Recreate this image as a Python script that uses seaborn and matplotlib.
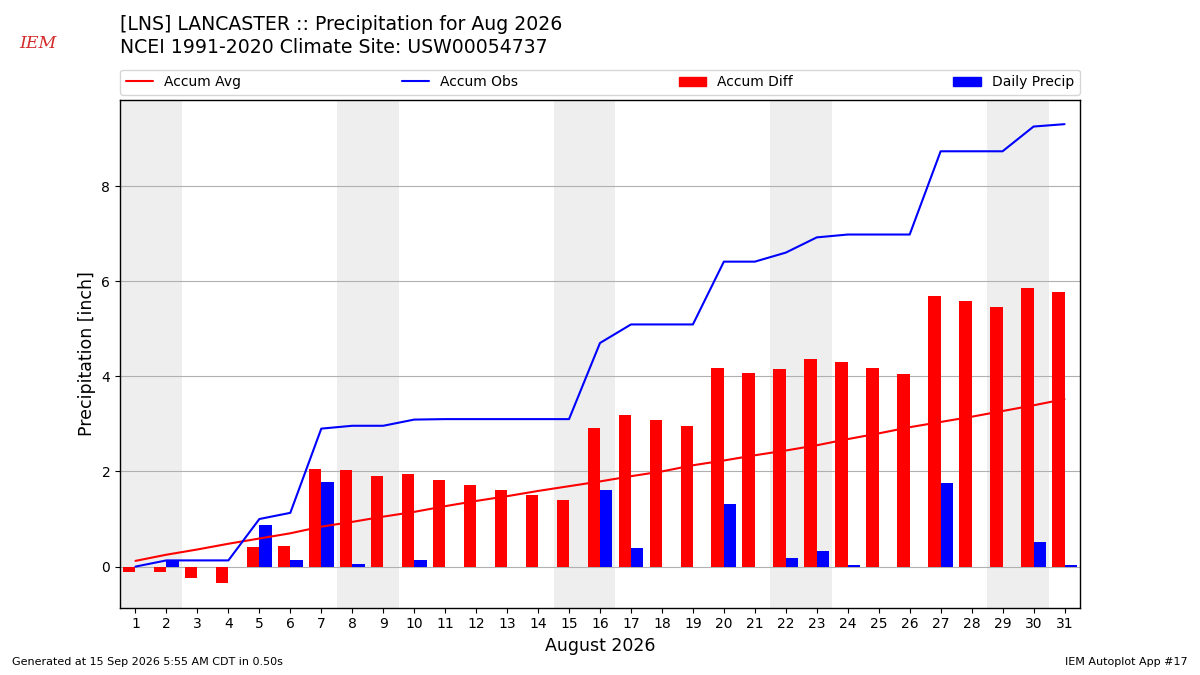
import matplotlib
matplotlib.use("Agg")
import matplotlib.pyplot as plt
import matplotlib.patches as mpatches
from matplotlib.lines import Line2D
import pandas as pd
import seaborn as sns

TITLE = "[LNS] LANCASTER :: Precipitation for Aug 2026\nNCEI 1991-2020 Climate Site: USW00054737"

days = list(range(1, 32))
accum_avg = [0.12, 0.25, 0.36, 0.48, 0.59, 0.70, 0.84, 0.94, 1.05, 1.15, 1.27, 1.38, 1.48, 1.59, 1.69, 1.79,
             1.90, 2.00, 2.13, 2.23, 2.34, 2.44, 2.55, 2.68, 2.80, 2.93, 3.04, 3.15, 3.27, 3.39, 3.52]
accum_obs = [0.00, 0.13, 0.13, 0.13, 1.00, 1.13, 2.90, 2.96, 2.96, 3.09, 3.10, 3.10, 3.10, 3.10, 3.10, 4.70,
             5.09, 5.09, 5.09, 6.41, 6.41, 6.60, 6.92, 6.98, 6.98, 6.98, 8.73, 8.73, 8.73, 9.25, 9.30]
accum_diff = [-0.12, -0.12, -0.23, -0.35, 0.41, 0.43, 2.06, 2.02, 1.91, 1.94, 1.83, 1.72, 1.62, 1.51, 1.41, 2.91,
              3.19, 3.09, 2.96, 4.18, 4.07, 4.16, 4.37, 4.30, 4.18, 4.05, 5.69, 5.58, 5.46, 5.86, 5.78]
daily_precip = [0.00, 0.13, 0.00, 0.00, 0.87, 0.13, 1.77, 0.06, 0.00, 0.13, 0.00, 0.00, 0.00, 0.00, 0.00, 1.60,
                0.39, 0.00, 0.00, 1.31, 0.00, 0.19, 0.32, 0.04, 0.00, 0.00, 1.75, 0.00, 0.00, 0.52, 0.04]
weekend_starts = [1, 8, 15, 22, 29]

lines_df = pd.DataFrame({"day": days, "avg": accum_avg, "obs": accum_obs})
bars_df = pd.concat([
    pd.DataFrame({"day": days, "value": accum_diff, "series": "Accum Diff"}),
    pd.DataFrame({"day": days, "value": daily_precip, "series": "Daily Precip"}),
])

sns.set_theme(style="ticks", rc={
    "axes.edgecolor": "black", "text.color": "black", "axes.labelcolor": "black",
    "xtick.color": "black", "ytick.color": "black", "font.size": 10,
    "xtick.labelsize": 10, "ytick.labelsize": 10, "axes.labelsize": 12.5,
    "legend.fontsize": 10, "axes.linewidth": 1.0,
    "xtick.major.size": 3.5, "ytick.major.size": 3.5,
    "xtick.major.width": 0.8, "ytick.major.width": 0.8,
})
plt.rcParams["font.family"] = ["DejaVu Sans"]

fig = plt.figure(figsize=(12, 6.75), dpi=100)
ax = fig.add_axes([0.1, 0.1, 0.8, 0.752])

for d in weekend_starts:
    ax.axvspan(d - 0.5, d + 1.5, color="#eeeeee", zorder=0, lw=0)

ax.yaxis.grid(True, color="#b0b0b0", lw=0.8, zorder=1)
ax.set_axisbelow(True)

sns.barplot(data=bars_df, x="day", y="value", hue="series", hue_order=["Accum Diff", "Daily Precip"],
            palette={"Accum Diff": "red", "Daily Precip": "blue"}, native_scale=True, width=0.8,
            linewidth=0, saturation=1, errorbar=None, legend=False, ax=ax, zorder=2)
sns.lineplot(data=lines_df, x="day", y="avg", color="red", lw=1.5, ax=ax, zorder=3)
sns.lineplot(data=lines_df, x="day", y="obs", color="blue", lw=1.5, ax=ax, zorder=3)

ax.set_xlim(0.5, 31.5)
ax.set_ylim(-0.86, 9.81)
ax.set_xticks(days)
ax.set_xticklabels([str(d) for d in days])
ax.set_yticks([0, 2, 4, 6, 8])
ax.set_xlabel("August 2026")
ax.set_ylabel("Precipitation [inch]")

handles = [Line2D([], [], color="red", lw=1.5), Line2D([], [], color="blue", lw=1.5),
           mpatches.Patch(color="red"), mpatches.Patch(color="blue")]
ax.legend(handles, ["Accum Avg", "Accum Obs", "Accum Diff", "Daily Precip"], loc="lower left",
          bbox_to_anchor=(0, 1.01, 1, 0.05), ncol=4, mode="expand", borderaxespad=0, frameon=True)

fig.text(0.1, 0.947, TITLE, fontsize=13.6, va="center", ha="left", linespacing=1.25)
fig.text(0.016, 0.935, "IEM", fontsize=12.5, color="#d42a2a", family="DejaVu Serif", style="italic",
         va="center", ha="left")
fig.text(0.01, 0.015, "Generated at 15 Sep 2026 5:55 AM CDT in 0.50s", fontsize=8)
fig.text(0.99, 0.015, "IEM Autoplot App #17", fontsize=8, ha="right")

fig.savefig("out.png", dpi=100)
